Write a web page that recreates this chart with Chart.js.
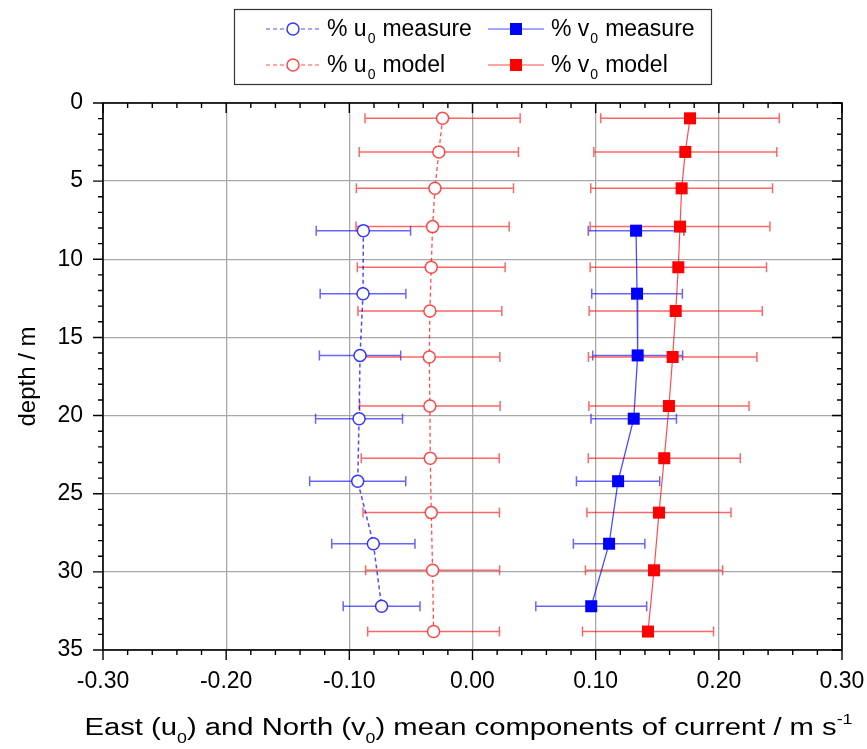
<!DOCTYPE html>
<html>
<head>
<meta charset="utf-8">
<script src="https://cdn.jsdelivr.net/npm/chart.js@4.4.1/dist/chart.umd.min.js"></script>
<style>
  html, body { margin: 0; padding: 0; background: #fff; }
  #wrap { width: 867px; height: 749px; position: relative; }
</style>
</head>
<body>
<div id="wrap"><canvas id="profil"></canvas></div>
<script>
// depths (m) and mean current components (m/s) with half-width of error bars
var depthModel = [0.98, 3.13, 5.46, 7.91, 10.51, 13.31, 16.25, 19.39, 22.73, 26.21, 29.9, 33.82];
var uModel = [-0.0243, -0.0273, -0.0305, -0.0324, -0.0335, -0.0346, -0.0351, -0.0346, -0.0343, -0.0335, -0.0324, -0.0316];
var uModelErr = [0.063, 0.0646, 0.0638, 0.0622, 0.060, 0.0584, 0.0573, 0.057, 0.056, 0.0554, 0.0544, 0.0535];
var vModel = [0.1766, 0.1728, 0.1698, 0.1685, 0.1671, 0.165, 0.1625, 0.1595, 0.1557, 0.1514, 0.1474, 0.1425];
var vModelErr = [0.0725, 0.0743, 0.0738, 0.073, 0.0716, 0.0703, 0.0684, 0.065, 0.0617, 0.0585, 0.0557, 0.0532];

var depthMeasure = [8.17, 12.2, 16.15, 20.2, 24.2, 28.2, 32.2];
var uMeasure = [-0.0886, -0.0889, -0.0913, -0.0921, -0.0932, -0.0805, -0.0738];
var uMeasureErr = [0.0383, 0.0348, 0.033, 0.0353, 0.039, 0.0338, 0.0312];
var vMeasure = [0.1328, 0.1336, 0.1341, 0.1309, 0.1182, 0.1109, 0.0964];
var vMeasureErr = [0.0388, 0.0368, 0.0365, 0.0347, 0.0338, 0.029, 0.045];

var xTicks = [-0.30, -0.20, -0.10, 0.00, 0.10, 0.20, 0.30];
var yTicks = [0, 5, 10, 15, 20, 25, 30, 35];

var legendNames = [
    ['% u', 'measure'], ['% v', 'measure'],
    ['% u', 'model'], ['% v', 'model']
];

var FONT = '"Liberation Sans", Arial, sans-serif';
var BLUE = 'rgba(0,0,255,0.7)';
var RED = 'rgba(255,0,0,0.7)';

function points(xs, ys) {
    return xs.map(function (x, i) { return { x: x, y: ys[i] }; });
}

// legend order: u measure, v measure, u model, v model
var datasets = [
    {
        label: legendNames[0].join(' '), data: points(uMeasure, depthMeasure), xErr: uMeasureErr,
        showLine: true, borderColor: BLUE, borderWidth: 1.5, borderDash: [4, 3],
        pointStyle: 'circle', pointRadius: 6, pointBorderWidth: 1.5,
        pointBackgroundColor: '#fff', pointBorderColor: 'rgba(20,20,255,0.85)', errColor: 'rgba(0,0,255,0.6)'
    },
    {
        label: legendNames[1].join(' '), data: points(vMeasure, depthMeasure), xErr: vMeasureErr,
        showLine: true, borderColor: BLUE, borderWidth: 1.3,
        pointStyle: 'rect', pointRadius: 8.5, pointBorderWidth: 0,
        pointBackgroundColor: '#0000ff', pointBorderColor: '#0000ff', errColor: 'rgba(0,0,255,0.6)'
    },
    {
        label: legendNames[2].join(' '), data: points(uModel, depthModel), xErr: uModelErr,
        showLine: true, borderColor: RED, borderWidth: 1.3, borderDash: [4, 3],
        pointStyle: 'circle', pointRadius: 6, pointBorderWidth: 1.5,
        pointBackgroundColor: '#fff', pointBorderColor: 'rgba(255,40,40,0.85)', errColor: 'rgba(255,0,0,0.6)'
    },
    {
        label: legendNames[3].join(' '), data: points(vModel, depthModel), xErr: vModelErr,
        showLine: true, borderColor: RED, borderWidth: 1.2,
        pointStyle: 'rect', pointRadius: 8.5, pointBorderWidth: 0,
        pointBackgroundColor: '#ff0000', pointBorderColor: '#ff0000', errColor: 'rgba(255,0,0,0.6)'
    }
];

// horizontal error bars with end caps
var errorBars = {
    id: 'errorBars',
    beforeDatasetsDraw: function (chart) {
        var ctx = chart.ctx, xs = chart.scales.x, ys = chart.scales.y;
        ctx.save();
        chart.data.datasets.forEach(function (ds) {
            ctx.strokeStyle = ds.errColor;
            ctx.lineWidth = 1.5;
            ds.data.forEach(function (p, i) {
                var y = ys.getPixelForValue(p.y);
                var x1 = xs.getPixelForValue(p.x - ds.xErr[i]);
                var x2 = xs.getPixelForValue(p.x + ds.xErr[i]);
                ctx.beginPath();
                ctx.moveTo(x1, y); ctx.lineTo(x2, y);
                ctx.moveTo(x1, y - 5); ctx.lineTo(x1, y + 5);
                ctx.moveTo(x2, y - 5); ctx.lineTo(x2, y + 5);
                ctx.stroke();
            });
        });
        ctx.restore();
    }
};

// text with a lowered "0" after the first piece
function drawSub(ctx, x, y, main, sub, rest, size) {
    ctx.font = size + 'px ' + FONT;
    ctx.fillText(main, x, y);
    x += ctx.measureText(main).width;
    ctx.font = Math.round(size * 0.62) + 'px ' + FONT;
    ctx.fillText(sub, x + 1, y + size * 0.3);
    x += ctx.measureText(sub).width + 8;
    ctx.font = size + 'px ' + FONT;
    ctx.fillText(rest, x, y);
}

var frame = {
    id: 'frame',
    afterDraw: function (chart) {
        var ctx = chart.ctx, a = chart.chartArea, xs = chart.scales.x, ys = chart.scales.y;
        ctx.save();
        ctx.strokeStyle = '#000';
        ctx.lineWidth = 1.6;
        ctx.strokeRect(a.left, a.top, a.right - a.left, a.bottom - a.top);

        // ticks: outward on bottom/left, inward on top/right
        ctx.lineWidth = 1.4;
        ctx.beginPath();
        for (var k = 0; k <= 30; k++) {
            var v = -0.3 + k * 0.02;
            var px = xs.getPixelForValue(v);
            var len = (k % 5 === 0) ? 10 : 5;
            ctx.moveTo(px, a.bottom); ctx.lineTo(px, a.bottom + len);
            ctx.moveTo(px, a.top); ctx.lineTo(px, a.top + len);
        }
        for (var d = 0; d <= 35; d++) {
            var py = ys.getPixelForValue(d);
            var l = (d % 5 === 0) ? 10 : 5;
            ctx.moveTo(a.left, py); ctx.lineTo(a.left - l, py);
            ctx.moveTo(a.right, py); ctx.lineTo(a.right - l, py);
        }
        ctx.stroke();

        // x axis title with subscripts and superscript, stretched to the wide original lettering
        ctx.fillStyle = '#000';
        ctx.textBaseline = 'alphabetic';
        ctx.textAlign = 'left';
        var parts = [
            ['East (u', 0], ['0', 1], [') and North (v', 0], ['0', 1],
            [') mean components of current / m s', 0], ['-1', 2]
        ];
        var big = 23, small = 14, total = 0;
        parts.forEach(function (p) {
            ctx.font = (p[1] ? small : big) + 'px ' + FONT;
            total += ctx.measureText(p[0]).width;
        });
        var stretch = 768 / total;
        ctx.save();
        ctx.translate((a.left + a.right) / 2 - 4 - total * stretch / 2, 735);
        ctx.scale(stretch, 1);
        var tx = 0;
        parts.forEach(function (p) {
            ctx.font = (p[1] ? small : big) + 'px ' + FONT;
            var dy = p[1] === 1 ? 8 : (p[1] === 2 ? -11 : 0);
            ctx.fillText(p[0], tx, dy);
            tx += ctx.measureText(p[0]).width;
        });
        ctx.restore();

        // legend box
        ctx.lineWidth = 1.2;
        ctx.strokeStyle = '#333';
        ctx.strokeRect(234.5, 9.5, 477, 75);
        var cols = [{ x0: 266, x1: 320, tx: 327 }, { x0: 488, x1: 544, tx: 551 }];
        var rows = [29, 65];
        chart.data.datasets.forEach(function (ds, i) {
            var c = cols[i % 2], ry = rows[Math.floor(i / 2)];
            ctx.save();
            ctx.strokeStyle = ds.borderColor;
            ctx.lineWidth = 1.2;
            ctx.setLineDash(ds.borderDash || []);
            ctx.beginPath();
            ctx.moveTo(c.x0, ry); ctx.lineTo(c.x1, ry);
            ctx.stroke();
            ctx.restore();
            var mx = (c.x0 + c.x1) / 2;
            if (ds.pointStyle === 'circle') {
                ctx.beginPath();
                ctx.arc(mx, ry, 6, 0, Math.PI * 2);
                ctx.fillStyle = '#fff';
                ctx.fill();
                ctx.lineWidth = 1.5;
                ctx.strokeStyle = ds.pointBorderColor;
                ctx.stroke();
            } else {
                ctx.fillStyle = ds.pointBackgroundColor;
                ctx.fillRect(mx - 6, ry - 6, 12, 12);
            }
            ctx.fillStyle = '#000';
            var nm = legendNames[i];
            drawSub(ctx, c.tx, ry + 7, nm[0], '0', nm[1], 23);
        });
        ctx.restore();
    }
};

new Chart(document.getElementById('profil'), {
    type: 'scatter',
    data: { datasets: datasets },
    plugins: [errorBars, frame],
    options: {
        responsive: true,
        maintainAspectRatio: false,
        animation: false,
        layout: { padding: { top: 103, right: 25, left: 0, bottom: 0 } },
        plugins: {
            legend: { display: false },
            tooltip: { enabled: false }
        },
        scales: {
            x: {
                type: 'linear',
                min: -0.3, max: 0.3,
                afterFit: function (s) { s.height = 99; s.paddingLeft = 0; s.paddingRight = 0; },
                afterBuildTicks: function (s) { s.ticks = xTicks.map(function (v) { return { value: v }; }); },
                ticks: {
                    padding: 18,
                    color: '#000',
                    font: { family: FONT, size: 23 },
                    callback: function (v) { return v.toFixed(2); }
                },
                grid: { color: '#a8a8a8', lineWidth: 1.3, drawTicks: false },
                border: { display: false }
            },
            y: {
                type: 'linear',
                reverse: true,
                min: 0, max: 35,
                afterFit: function (s) { s.width = 103; s.paddingTop = 0; s.paddingBottom = 0; },
                afterBuildTicks: function (s) { s.ticks = yTicks.map(function (v) { return { value: v }; }); },
                ticks: {
                    padding: 20,
                    color: '#000',
                    font: { family: FONT, size: 23 }
                },
                grid: { color: '#a8a8a8', lineWidth: 1.3, drawTicks: false },
                border: { display: false },
                title: {
                    display: true,
                    text: 'depth / m',
                    color: '#000',
                    font: { family: FONT, size: 24 },
                    padding: { top: 14, bottom: 0 }
                }
            }
        }
    }
});
</script>
</body>
</html>
